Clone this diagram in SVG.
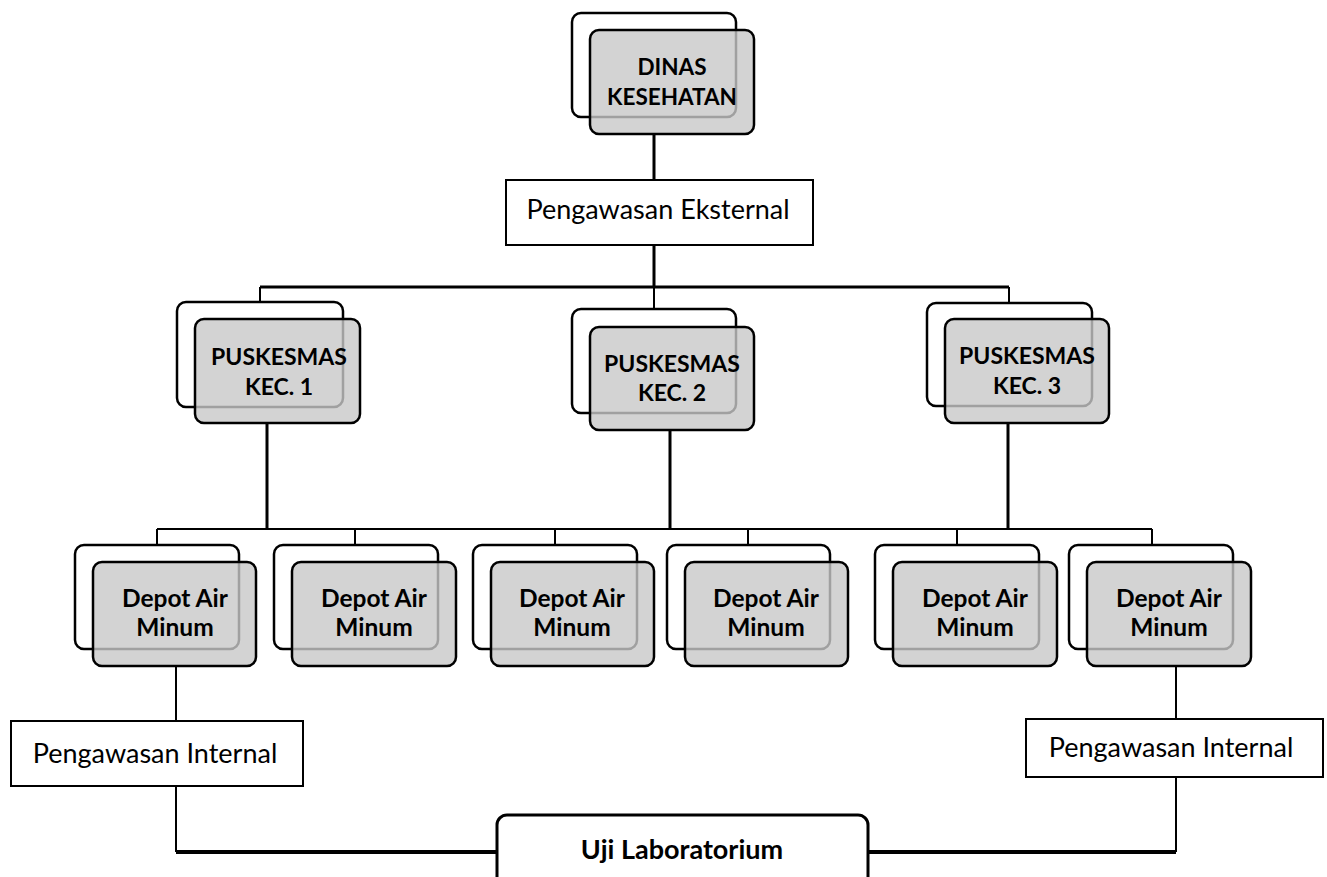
<svg xmlns="http://www.w3.org/2000/svg" width="1327" height="877" viewBox="0 0 1327 877">
<style>
.bk{fill:#fff;stroke:#000;stroke-width:2.5}
.fr{fill:#c8c8c8;fill-opacity:0.8;stroke:#000;stroke-width:2.5}
.bx{fill:#fff;stroke:#000;stroke-width:2}
.b{font-family:Lato,"Liberation Sans",Arial,sans-serif;font-weight:bold;font-size:24.5px;fill:#000;text-anchor:middle}
.c{font-size:23px}
.d{font-size:22.5px}
.n{font-family:Lato,"Liberation Sans",Arial,sans-serif;font-size:27px;fill:#000;text-anchor:middle}
.t3{fill:none;stroke:#000;stroke-width:3}
.t2{fill:none;stroke:#000;stroke-width:2}
.t4{fill:none;stroke:#000;stroke-width:4}
</style>
<rect width="1327" height="877" fill="#fff"/>
<g id="connectors">
<path class="t3" d="M654 134V180M654 245V287M260 287H1009"/>
<path class="t2" d="M260 287V302M654 287V309M1009 287V303"/>
<path class="t3" d="M267 423V529M670 430V529M1008 423V529"/>
<path class="t2" d="M157 529H1152M157 529V545M355 529V545M555 529V545M748 529V545M957 529V545M1152 529V545"/>
<path class="t2" d="M176 666V721M176 786V852M1176 666V719M1176 777V852"/>
<path class="t4" d="M176 852H497M868 852H1176"/>
</g>
<g id="dinas">
<rect class="bk" x="572" y="13" width="164" height="104" rx="9"/>
<rect class="fr" x="590" y="30" width="164" height="104" rx="9"/>
<text class="b d" x="672" y="75">DINAS</text>
<text class="b d" x="672" y="105">KESEHATAN</text>
</g>
<g id="ekst">
<rect class="bx" x="506" y="180" width="307" height="65"/>
<text class="n" x="658" y="219">Pengawasan Eksternal</text>
</g>
<g id="pusk1">
<rect class="bk" x="177" y="302" width="166" height="105" rx="9"/>
<rect class="fr" x="195" y="319" width="165" height="104" rx="9"/>
<text class="b c" x="279" y="365">PUSKESMAS</text>
<text class="b c" x="279" y="395">KEC. 1</text>
</g>
<g id="pusk2">
<rect class="bk" x="572" y="309" width="164" height="104" rx="9"/>
<rect class="fr" x="590" y="327" width="164" height="103" rx="9"/>
<text class="b c" x="672" y="372">PUSKESMAS</text>
<text class="b c" x="672" y="401">KEC. 2</text>
</g>
<g id="pusk3">
<rect class="bk" x="927" y="303" width="165" height="103" rx="9"/>
<rect class="fr" x="945" y="319" width="164" height="104" rx="9"/>
<text class="b c" x="1027" y="364">PUSKESMAS</text>
<text class="b c" x="1027" y="394">KEC. 3</text>
</g>
<g id="depot1">
<rect class="bk" x="75" y="545" width="164" height="104" rx="9"/>
<rect class="fr" x="93" y="562" width="163" height="104" rx="9"/>
<text class="b" x="175" y="607">Depot Air</text>
<text class="b" x="175" y="636">Minum</text>
</g>
<g id="depot2">
<rect class="bk" x="274" y="545" width="164" height="104" rx="9"/>
<rect class="fr" x="292" y="562" width="164" height="104" rx="9"/>
<text class="b" x="374" y="607">Depot Air</text>
<text class="b" x="374" y="636">Minum</text>
</g>
<g id="depot3">
<rect class="bk" x="473" y="545" width="164" height="104" rx="9"/>
<rect class="fr" x="491" y="562" width="163" height="104" rx="9"/>
<text class="b" x="572" y="607">Depot Air</text>
<text class="b" x="572" y="636">Minum</text>
</g>
<g id="depot4">
<rect class="bk" x="667" y="545" width="163" height="104" rx="9"/>
<rect class="fr" x="685" y="562" width="163" height="104" rx="9"/>
<text class="b" x="766" y="607">Depot Air</text>
<text class="b" x="766" y="636">Minum</text>
</g>
<g id="depot5">
<rect class="bk" x="875" y="545" width="164" height="104" rx="9"/>
<rect class="fr" x="893" y="562" width="164" height="104" rx="9"/>
<text class="b" x="975" y="607">Depot Air</text>
<text class="b" x="975" y="636">Minum</text>
</g>
<g id="depot6">
<rect class="bk" x="1069" y="545" width="164" height="104" rx="9"/>
<rect class="fr" x="1087" y="562" width="164" height="104" rx="9"/>
<text class="b" x="1169" y="607">Depot Air</text>
<text class="b" x="1169" y="636">Minum</text>
</g>
<g id="int1">
<rect class="bx" x="11" y="721" width="292" height="65"/>
<text class="n" x="155" y="763">Pengawasan Internal</text>
</g>
<g id="int2">
<rect class="bx" x="1026" y="719" width="297" height="58"/>
<text class="n" x="1171" y="757">Pengawasan Internal</text>
</g>
<g id="uji">
<rect x="497" y="815" width="371" height="80" rx="10" fill="#fff" stroke="#000" stroke-width="3"/>
<text class="b" x="682" y="859" style="font-size:27px">Uji Laboratorium</text>
</g>
</svg>
